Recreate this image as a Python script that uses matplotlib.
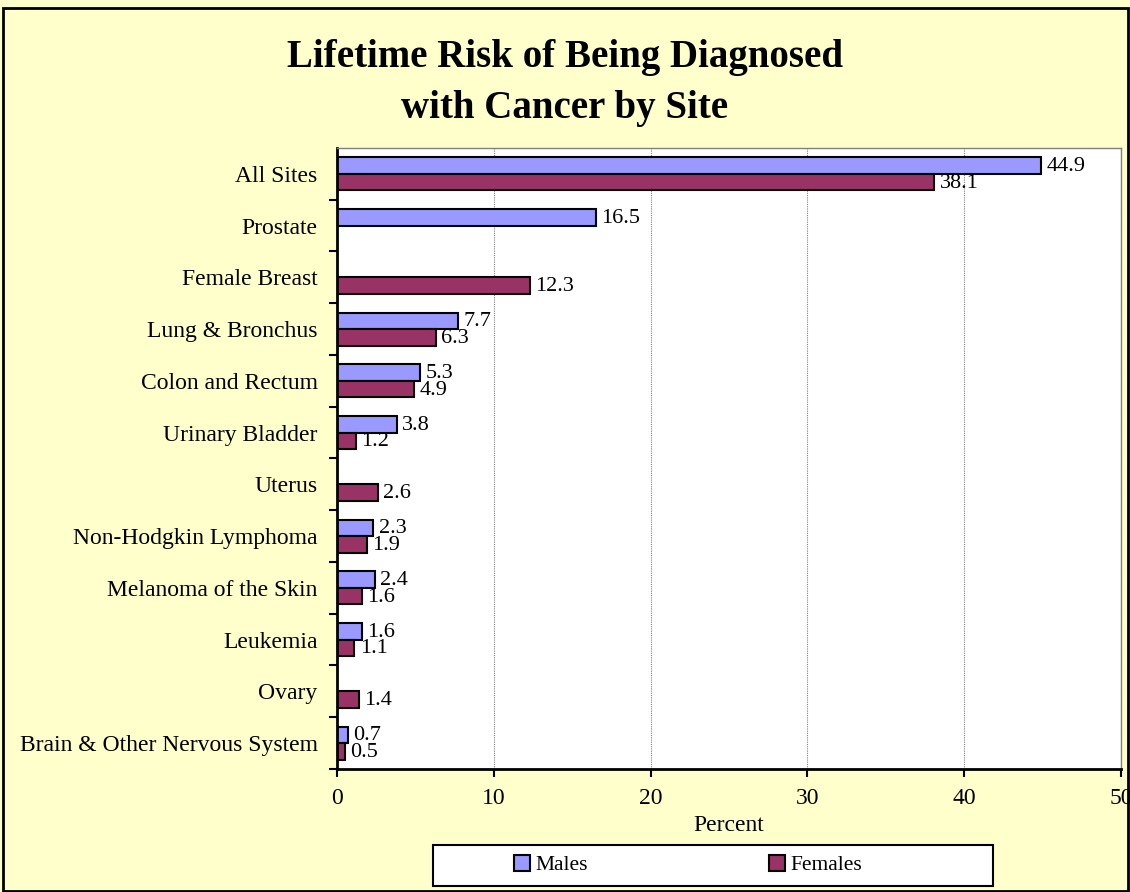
import numpy as np
import matplotlib.pyplot as plt
from matplotlib.patches import Rectangle

sites = ["All Sites", "Prostate", "Female Breast", "Lung & Bronchus",
         "Colon and Rectum", "Urinary Bladder", "Uterus",
         "Non-Hodgkin Lymphoma", "Melanoma of the Skin", "Leukemia",
         "Ovary", "Brain & Other Nervous System"]
males = [44.9, 16.5, None, 7.7, 5.3, 3.8, None, 2.3, 2.4, 1.6, None, 0.7]
females = [38.1, None, 12.3, 6.3, 4.9, 1.2, 2.6, 1.9, 1.6, 1.1, 1.4, 0.5]

plt.rcParams["font.family"] = ["Liberation Serif", "DejaVu Serif"]

bg = "#FFFFCC"
c_m = "#9999FF"
c_f = "#993366"
fs = 17

fig = plt.figure(figsize=(11.3, 8.92), dpi=100, facecolor=bg)
ax = fig.add_axes([0.2982, 0.1379, 0.6938, 0.6962])
ax.set_facecolor("white")

y = np.arange(len(sites))
h = 0.32
off = 0.16
for i, (m, f) in enumerate(zip(males, females)):
    if m is not None:
        ax.barh(i - off, m, height=h, color=c_m, edgecolor="black", linewidth=1.5)
        ax.text(m + 0.35, i - off + 0.02, f"{m:.1f}", va="center", ha="left", fontsize=16)
    if f is not None:
        ax.barh(i + off, f, height=h, color=c_f, edgecolor="black", linewidth=1.5)
        ax.text(f + 0.35, i + off + 0.02, f"{f:.1f}", va="center", ha="left", fontsize=16)

ax.set_ylim(len(sites) - 0.5, -0.5)
ax.set_xlim(0, 50)
ax.set_xticks([0, 10, 20, 30, 40, 50])
ax.tick_params(axis="x", labelsize=fs, length=6, width=1.5, direction="out", pad=8)
ax.set_yticks(y)
ax.set_yticklabels(sites, fontsize=fs)
ax.tick_params(axis="y", length=0, pad=14)
ax.set_yticks(np.arange(len(sites)) + 0.5, minor=True)
ax.tick_params(axis="y", which="minor", length=6, width=1.5, direction="out")
ax.xaxis.grid(True, color="#808080", linestyle=(0, (1, 1)), linewidth=0.8)
ax.set_axisbelow(True)
for s in ["top", "right"]:
    ax.spines[s].set_color("#808080")
    ax.spines[s].set_linewidth(1)
for s in ["left", "bottom"]:
    ax.spines[s].set_linewidth(2)
ax.set_xlabel("Percent", fontsize=fs, labelpad=4)

fig.text(0.5, 0.935, "Lifetime Risk of Being Diagnosed", ha="center", va="center",
         fontsize=28, fontweight="bold")
fig.text(0.5, 0.878, "with Cancer by Site", ha="center", va="center",
         fontsize=28, fontweight="bold")

# legend box drawn separately so the entries can sit in the middle
fig.patches.append(Rectangle((0.383, 0.0067), 0.4956, 0.046, transform=fig.transFigure,
                             facecolor="white", edgecolor="black", linewidth=1.5))
handles = [Rectangle((0, 0), 1, 1, facecolor=c_m, edgecolor="black", linewidth=1.5),
           Rectangle((0, 0), 1, 1, facecolor=c_f, edgecolor="black", linewidth=1.5)]
fig.legend(handles, ["Males", "Females"], ncol=2, loc="center",
           bbox_to_anchor=(0.609, 0.03), fontsize=15.5, frameon=False,
           handlelength=0.75, handleheight=0.75, handletextpad=0.25,
           columnspacing=8.4)

fig.patches.append(Rectangle((0.003, 0.001), 0.995, 0.99, transform=fig.transFigure,
                             fill=False, edgecolor="black", linewidth=2))

fig.savefig("out.png", dpi=100, facecolor=bg)
